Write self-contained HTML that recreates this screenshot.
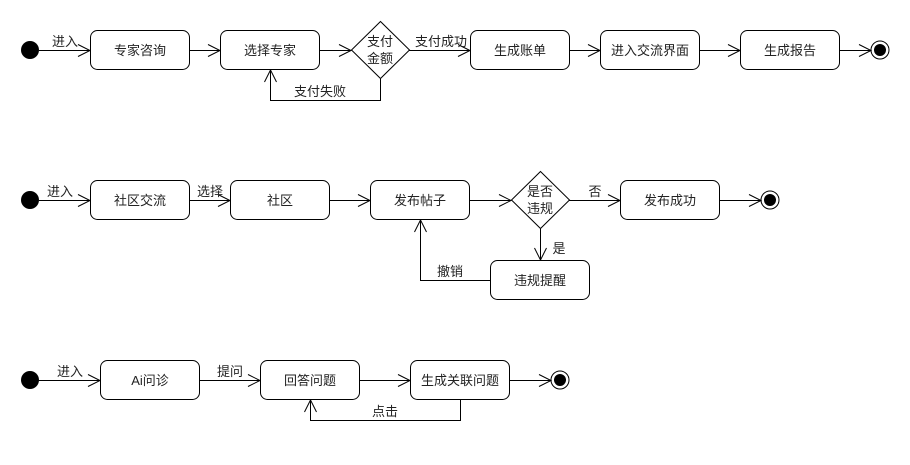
<!DOCTYPE html>
<html><head><meta charset="utf-8"><style>
html,body{margin:0;padding:0;background:#fff;}
svg text{font-family:"Liberation Sans","Noto Sans CJK SC",sans-serif;font-size:13px;fill:#222;}
</style></head><body>
<svg width="910" height="460" viewBox="0 0 910 460" xmlns="http://www.w3.org/2000/svg">
<g fill="none" stroke="#000" stroke-width="1">
<!-- Row 1 -->
<rect x="90.5" y="30.5" width="99" height="39" rx="7"/>
<rect x="220.5" y="30.5" width="99" height="39" rx="7"/>
<path d="M380.5 21.5 L409.5 50 L380.5 78.5 L351.5 50 Z"/>
<rect x="470.5" y="30.5" width="99" height="39" rx="7"/>
<rect x="600.5" y="30.5" width="99" height="39" rx="7"/>
<rect x="740.5" y="30.5" width="99" height="39" rx="7"/>
<circle cx="880" cy="50" r="9"/>
<path d="M39 50.5H90M78 44.5L90 50.5L78 56.5"/>
<path d="M190 50.5H220M208 44.5L220 50.5L208 56.5"/>
<path d="M320 50.5H351M339 44.5L351 50.5L339 56.5"/>
<path d="M409 50.5H470M458 44.5L470 50.5L458 56.5"/>
<path d="M570 50.5H600M588 44.5L600 50.5L588 56.5"/>
<path d="M700 50.5H740M728 44.5L740 50.5L728 56.5"/>
<path d="M840 50.5H871M859 44.5L871 50.5L859 56.5"/>
<path d="M380.5 79V100.5H270.5V70M264.5 82L270.5 70L276.5 82"/>
<!-- Row 2 -->
<rect x="90.5" y="180.5" width="99" height="39" rx="7"/>
<rect x="230.5" y="180.5" width="99" height="39" rx="7"/>
<rect x="370.5" y="180.5" width="99" height="39" rx="7"/>
<path d="M540.5 171.5 L569.5 200 L540.5 228.5 L511.5 200 Z"/>
<rect x="620.5" y="180.5" width="99" height="39" rx="7"/>
<rect x="490.5" y="260.5" width="99" height="39" rx="7"/>
<circle cx="770" cy="200" r="9"/>
<path d="M39 200.5H90M78 194.5L90 200.5L78 206.5"/>
<path d="M190 200.5H230M218 194.5L230 200.5L218 206.5"/>
<path d="M330 200.5H370M358 194.5L370 200.5L358 206.5"/>
<path d="M470 200.5H511M499 194.5L511 200.5L499 206.5"/>
<path d="M569 200.5H620M608 194.5L620 200.5L608 206.5"/>
<path d="M720 200.5H761M749 194.5L761 200.5L749 206.5"/>
<path d="M540.5 229V260M534.5 248L540.5 260L546.5 248"/>
<path d="M490 280.5H420.5V220M414.5 232L420.5 220L426.5 232"/>
<!-- Row 3 -->
<rect x="100.5" y="360.5" width="99" height="39" rx="7"/>
<rect x="260.5" y="360.5" width="99" height="39" rx="7"/>
<rect x="410.5" y="360.5" width="99" height="39" rx="7"/>
<circle cx="560" cy="380" r="9"/>
<path d="M39 380.5H100M88 374.5L100 380.5L88 386.5"/>
<path d="M200 380.5H260M248 374.5L260 380.5L248 386.5"/>
<path d="M360 380.5H410M398 374.5L410 380.5L398 386.5"/>
<path d="M510 380.5H551M539 374.5L551 380.5L539 386.5"/>
<path d="M460.5 400V420.5H310.5V400M304.5 412L310.5 400L316.5 412"/>
</g>
<g fill="#000">
<circle cx="30" cy="50" r="9"/>
<circle cx="880" cy="50" r="6"/>
<circle cx="30" cy="200" r="9"/>
<circle cx="770" cy="200" r="6"/>
<circle cx="30" cy="380" r="9"/>
<circle cx="560" cy="380" r="6"/>
</g>
<g text-anchor="middle">
<text x="140" y="55">专家咨询</text>
<text x="270" y="55">选择专家</text>
<text x="380" y="46">支付</text>
<text x="380" y="63">金额</text>
<text x="520" y="55">生成账单</text>
<text x="650" y="55">进入交流界面</text>
<text x="790" y="55">生成报告</text>
<text x="65" y="46">进入</text>
<text x="441" y="46">支付成功</text>
<text x="320" y="96">支付失败</text>

<text x="140" y="205">社区交流</text>
<text x="280" y="205">社区</text>
<text x="420" y="205">发布帖子</text>
<text x="540" y="196">是否</text>
<text x="540" y="213">违规</text>
<text x="670" y="205">发布成功</text>
<text x="540" y="285">违规提醒</text>
<text x="60" y="196">进入</text>
<text x="210" y="196">选择</text>
<text x="595" y="196">否</text>
<text x="559" y="253">是</text>
<text x="450" y="276">撤销</text>

<text x="150" y="385">Ai问诊</text>
<text x="310" y="385">回答问题</text>
<text x="460" y="385">生成关联问题</text>
<text x="70" y="376">进入</text>
<text x="230" y="376">提问</text>
<text x="385" y="416">点击</text>
</g>
</svg>
</body></html>
